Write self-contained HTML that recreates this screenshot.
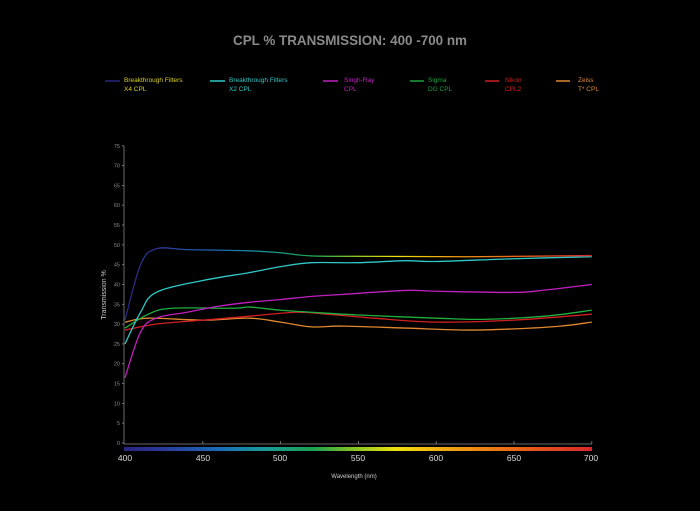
<!DOCTYPE html>
<html><head><meta charset="utf-8"><style>
html,body{margin:0;padding:0;background:#000;}
svg{display:block;font-family:"Liberation Sans",sans-serif;}
</style></head><body>
<svg width="700" height="511" viewBox="0 0 700 511" xmlns="http://www.w3.org/2000/svg">
<defs>
<linearGradient id="spec" gradientUnits="userSpaceOnUse" x1="125" y1="0" x2="592" y2="0">
<stop offset="0" stop-color="#2a2580"/>
<stop offset="0.08" stop-color="#2a3a9a"/>
<stop offset="0.2" stop-color="#1a6ab8"/>
<stop offset="0.3" stop-color="#1a9a9a"/>
<stop offset="0.4" stop-color="#1aa050"/>
<stop offset="0.5" stop-color="#90c820"/>
<stop offset="0.58" stop-color="#f0e010"/>
<stop offset="0.7" stop-color="#f0a010"/>
<stop offset="0.85" stop-color="#e86018"/>
<stop offset="1" stop-color="#d82828"/>
</linearGradient>
</defs>
<text x="350" y="45" text-anchor="middle" fill="#8a8a8a" font-size="14" font-weight="bold" textLength="234" lengthAdjust="spacingAndGlyphs">CPL % TRANSMISSION: 400 -700 nm</text>
<g font-size="6.5">
<line x1="105" y1="81" x2="120" y2="81" stroke="url(#spec)" stroke-width="1.5"/>
<text x="124" y="82" fill="#d8d020">Breakthrough Filters</text><text x="124" y="91" fill="#d8d020">X4 CPL</text>
<line x1="210" y1="81" x2="225" y2="81" stroke="#30c8c8" stroke-width="1.5"/>
<text x="229" y="82" fill="#30c8c8">Breakthrough Filters</text><text x="229" y="91" fill="#30c8c8">X2 CPL</text>
<line x1="323" y1="81" x2="338" y2="81" stroke="#c020c0" stroke-width="1.5"/>
<text x="344" y="82" fill="#c020c0">Singh-Ray</text><text x="344" y="91" fill="#c020c0">CPL</text>
<line x1="410" y1="81" x2="424" y2="81" stroke="#20a040" stroke-width="1.5"/>
<text x="428" y="82" fill="#20a040">Sigma</text><text x="428" y="91" fill="#20a040">DG CPL</text>
<line x1="485" y1="81" x2="499" y2="81" stroke="#d02020" stroke-width="1.5"/>
<text x="505" y="82" fill="#d02020">Nikon</text><text x="505" y="91" fill="#d02020">CPL2</text>
<line x1="556" y1="81" x2="570" y2="81" stroke="#e08830" stroke-width="1.5"/>
<text x="578" y="82" fill="#e08830">Zeiss</text><text x="578" y="91" fill="#e08830">T* CPL</text>
</g>
<g id="axes" stroke="#888" stroke-width="0.8" fill="none">
<line x1="124" y1="146" x2="124" y2="444"/>
<line x1="124" y1="444" x2="592" y2="444"/>
</g>
<g id="yt" font-size="5.5" fill="#888" text-anchor="end"></g>
<rect x="124" y="447" width="468" height="4" fill="url(#spec)"/>
<g font-size="8.5" fill="#ddd" text-anchor="middle">
<text x="125" y="461">400</text><text x="203" y="461">450</text><text x="280" y="461">500</text><text x="358" y="461">550</text><text x="436" y="461">600</text><text x="514" y="461">650</text><text x="591" y="461">700</text>
</g>
<text x="354" y="478" text-anchor="middle" font-size="6" fill="#ccc">Wavelength (nm)</text>
<text transform="translate(106,295) rotate(-90)" text-anchor="middle" font-size="7" fill="#ccc">Transmission %</text>
<g id="curves" fill="none" stroke-width="1.3"></g>
</svg>
<script>
var NS="http://www.w3.org/2000/svg";
function X(w){return 125+(w-400)*1.556;}
function Y(v){return 443-v*3.963;}
var yt=document.getElementById('yt'),ax=document.getElementById('axes');
for(var v=0;v<=75;v+=5){var t=document.createElementNS(NS,'text');t.setAttribute('x',120);t.setAttribute('y',Y(v)+2);t.textContent=v;yt.appendChild(t);
var l=document.createElementNS(NS,'line');l.setAttribute('x1',122);l.setAttribute('x2',124);l.setAttribute('y1',Y(v));l.setAttribute('y2',Y(v));ax.appendChild(l);}
[450,500,550,600,650,700].forEach(function(w){var l=document.createElementNS(NS,'line');l.setAttribute('x1',X(w));l.setAttribute('x2',X(w));l.setAttribute('y1',441);l.setAttribute('y2',444);ax.appendChild(l);});
function path(pts){var p=pts.map(function(a){return [X(a[0]),Y(a[1])];});var d='M'+p[0][0]+','+p[0][1];
for(var i=0;i<p.length-1;i++){var p0=p[i-1]||p[i],p1=p[i],p2=p[i+1],p3=p[i+2]||p2;
d+=' C'+(p1[0]+(p2[0]-p0[0])/6)+','+(p1[1]+(p2[1]-p0[1])/6)+' '+(p2[0]-(p3[0]-p1[0])/6)+','+(p2[1]-(p3[1]-p1[1])/6)+' '+p2[0]+','+p2[1];}return d;}
var S=[
["#e08830",[[400,30.5],[415,31.5],[450,31],[480,31.5],[500,30.5],[520,29.3],[540,29.5],[580,29],[620,28.5],[650,28.8],[680,29.5],[700,30.5]]],
["#d02020",[[400,28.5],[420,30],[450,31],[480,32],[510,33],[530,32.5],[560,31.5],[600,30.5],[650,31],[700,32.5]]],
["#20b040",[[400,29],[415,32.5],[430,34],[470,34],[480,34.3],[500,33.5],[520,33],[550,32.3],[600,31.5],[630,31.2],[670,32],[700,33.5]]],
["#c020c0",[[400,16.5],[410,28],[420,31.5],[440,33],[460,34.5],[480,35.5],[500,36.2],[520,37],[540,37.5],[580,38.5],[600,38.3],[650,38],[670,38.6],[700,40]]],
["#30c8c8",[[400,25],[410,33],[420,38],[450,41],[480,43],[500,44.5],[520,45.5],[550,45.5],[580,46],[600,45.8],[650,46.5],[700,47]]],
["url(#spec)",[[400,31],[410,45],[420,49],[440,48.8],[480,48.5],[500,48],[520,47.2],[560,47.1],[620,47],[700,47.3]]]
];
var g=document.getElementById('curves');
S.forEach(function(s){var e=document.createElementNS(NS,'path');e.setAttribute('d',path(s[1]));e.setAttribute('stroke',s[0]);g.appendChild(e);});
</script>
</body></html>
